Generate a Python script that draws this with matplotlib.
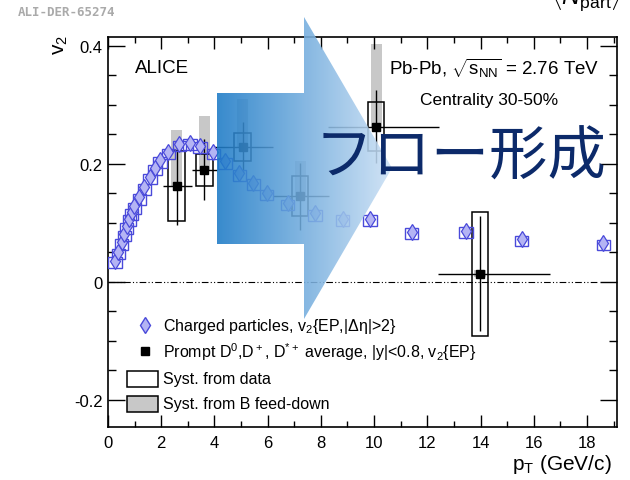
import numpy as np
import matplotlib
matplotlib.use("Agg")
import matplotlib.pyplot as plt
from matplotlib.patches import Rectangle, Polygon
from matplotlib.ticker import MultipleLocator

plt.rcParams['font.family'] = ['Liberation Sans', 'DejaVu Sans']
plt.rcParams['mathtext.fontset'] = 'custom'
plt.rcParams['mathtext.rm'] = 'Liberation Sans'
plt.rcParams['mathtext.it'] = 'Liberation Sans:italic'

# charged particles v2{EP,|deta|>2}
ch_pt = [0.26, 0.39, 0.51, 0.61, 0.70, 0.80, 0.89, 0.99, 1.18, 1.37, 1.58, 1.77,
         1.95, 2.27, 2.68, 3.08, 3.46, 3.96, 4.40, 4.94, 5.46, 5.96, 6.75, 7.78,
         8.82, 9.85, 11.41, 13.46, 15.55, 18.62]
ch_v2 = [0.036, 0.051, 0.067, 0.081, 0.094, 0.107, 0.118, 0.128, 0.143, 0.160, 0.178, 0.193,
         0.206, 0.220, 0.234, 0.236, 0.231, 0.220, 0.204, 0.184, 0.168, 0.151, 0.134, 0.116,
         0.107, 0.107, 0.085, 0.087, 0.073, 0.066]

# prompt D mesons
d_pt = [2.58, 3.62, 5.06, 7.22, 10.08, 13.98]
d_v2 = [0.162, 0.190, 0.228, 0.145, 0.263, 0.014]
d_pt_lo = [2.08, 3.14, 3.95, 6.19, 8.28, 12.42]
d_pt_hi = [3.14, 4.08, 6.20, 8.32, 12.45, 16.60]
d_stat = [0.065, 0.052, 0.043, 0.057, 0.062, 0.098]
d_syst = [0.059, 0.027, 0.024, 0.034, 0.042, 0.105]
fd_down = [0.0, 0.0, 0.0, 0.0, 0.0, 0.006]
fd_up = [0.095, 0.091, 0.082, 0.059, 0.140, 0.006]

W, H = 630, 481
fig = plt.figure(figsize=(6.3, 4.81), dpi=100)
ax = fig.add_axes([108 / W, 1 - 428 / H, 509 / W, 390 / H])

blue_edge = '#4a4ada'
blue_fill = '#b4b4f4'

# gray feed-down boxes
for x, y, dn, up in zip(d_pt, d_v2, fd_down, fd_up):
    ax.add_patch(Rectangle((x - 0.21, y - dn), 0.42, dn + up, facecolor='#c8c8c8',
                           edgecolor='none', zorder=1))
# open syst boxes
for x, y, s in zip(d_pt, d_v2, d_syst):
    ax.add_patch(Rectangle((x - 0.31, y - s), 0.62, 2 * s, facecolor='none',
                           edgecolor='black', lw=1.1, zorder=2))
# D stat errors
xerr = [np.array(d_pt) - np.array(d_pt_lo), np.array(d_pt_hi) - np.array(d_pt)]
ax.errorbar(d_pt, d_v2, xerr=xerr, yerr=d_stat, fmt='none', ecolor='black',
            elinewidth=1.0, capsize=0, zorder=2)

# charged particle boxes and markers
for x, y in zip(ch_pt, ch_v2):
    ax.add_patch(Rectangle((x - 0.25, y - 0.0125), 0.5, 0.018, facecolor='none',
                           edgecolor=blue_edge, lw=1.0, zorder=3))
ax.plot(ch_pt, ch_v2, ls='none', marker='d', markersize=8.5, markerfacecolor=blue_fill,
        markeredgecolor=blue_edge, markeredgewidth=0.9, zorder=4)

ax.plot(d_pt, d_v2, ls='none', marker='s', markersize=6, color='black', zorder=5)

# zero line
ax.plot([0, 18.4], [0, 0], color='black', lw=0.8, ls=(0, (6, 2, 1, 2, 1, 2)), zorder=0)

ax.set_xlim(0, 19.13)
ax.set_ylim(-0.246, 0.415)
ax.xaxis.set_major_locator(MultipleLocator(2))
ax.xaxis.set_minor_locator(MultipleLocator(1))
ax.yaxis.set_minor_locator(MultipleLocator(0.05))
ax.set_yticks([-0.2, 0, 0.2, 0.4])
ax.set_yticklabels(['-0.2', '0', '0.2', '0.4'])
ax.tick_params(axis='both', which='both', direction='in', top=True, right=True,
               labelsize=12, width=1.0)
ax.tick_params(axis='x', which='major', length=8.6, pad=6)
ax.tick_params(axis='x', which='minor', length=4.3)
ax.tick_params(axis='y', which='major', length=12, pad=4)
ax.tick_params(axis='y', which='minor', length=6)
for sp in ax.spines.values():
    sp.set_linewidth(1.2)

# texts
ax.text(0.053, 0.923, 'ALICE', transform=ax.transAxes, fontsize=13.5, va='center')
ax.text(0.758, 0.923, r'Pb-Pb, $\sqrt{\mathrm{s}_{\mathrm{NN}}}$ = 2.76 TeV',
        transform=ax.transAxes, fontsize=13.5, va='center', ha='center')
ax.text(0.749, 0.841, 'Centrality 30-50%', transform=ax.transAxes, fontsize=12.5,
        va='center', ha='center')

# legend
ax.plot([0.0727], [0.2615], transform=ax.transAxes, marker='d', markersize=8.5,
        markerfacecolor=blue_fill, markeredgecolor=blue_edge, ls='none', clip_on=False)
ax.plot([0.0727], [0.195], transform=ax.transAxes, marker='s', markersize=6,
        color='black', ls='none', clip_on=False)
ax.add_patch(Rectangle((0.0373, 0.1026), 0.061, 0.041, transform=ax.transAxes,
                       facecolor='white', edgecolor='black', lw=1.1))
ax.add_patch(Rectangle((0.0373, 0.0385), 0.061, 0.041, transform=ax.transAxes,
                       facecolor='#c8c8c8', edgecolor='black', lw=1.1))
leg_txt = [r'Charged particles, v$_2${EP,|Δη|>2}',
           r'Prompt D$^0$,D$^+$, D$^{*+}$ average, |y|<0.8, v$_2${EP}',
           'Syst. from data', 'Syst. from B feed-down']
for t, yy in zip(leg_txt, [0.2615, 0.195, 0.1256, 0.0615]):
    ax.text(0.108, yy, t, transform=ax.transAxes, fontsize=11.5, va='center')

fig.text(61 / W, 1 - 45 / H, r'v$_2$', rotation=90, fontsize=15, ha='center', va='center')
fig.text(612 / W, 1 - 465 / H, r'p$_{\mathrm{T}}$ (GeV/c)', fontsize=15, ha='right',
         va='center')
fig.text(18 / W, 1 - 12 / H, 'ALI-DER-65274', fontsize=9, color='#aaaaaa',
         family='DejaVu Sans Mono', weight='bold', va='center')
fig.text(550 / W, 1 - 5 / H, r'$\langle N_{\mathrm{part}}\rangle$', fontsize=18,
         va='baseline')

# overlay arrow with gradient
ov = fig.add_axes([0, 0, 1, 1], zorder=10)
ov.set_xlim(0, W)
ov.set_ylim(H, 0)
ov.axis('off')
ov.patch.set_alpha(0)
c0 = np.array([0.11, 0.48, 0.78])
c1 = np.array([0.80, 0.88, 0.96])
t = np.linspace(0, 1, 256)
grad = np.zeros((2, 256, 4))
grad[..., :3] = c0 + (c1 - c0) * t[:, None]
grad[..., 3] = 0.88
arrow = Polygon([(217, 94), (304, 94), (304, 18), (392, 169), (304, 320), (304, 245),
                 (217, 245)], closed=True, facecolor='none', edgecolor='none')
ov.add_patch(arrow)
im = ov.imshow(grad, extent=[217, 392, 320, 18], aspect='auto', interpolation='bilinear')
im.set_clip_path(arrow)

ov.text(460, 158, 'フロー形成', fontsize=42, color='#0c2a6a', ha='center', va='center',
        family=['Noto Sans CJK JP', 'DejaVu Sans'])

fig.savefig('out.png', dpi=100)
